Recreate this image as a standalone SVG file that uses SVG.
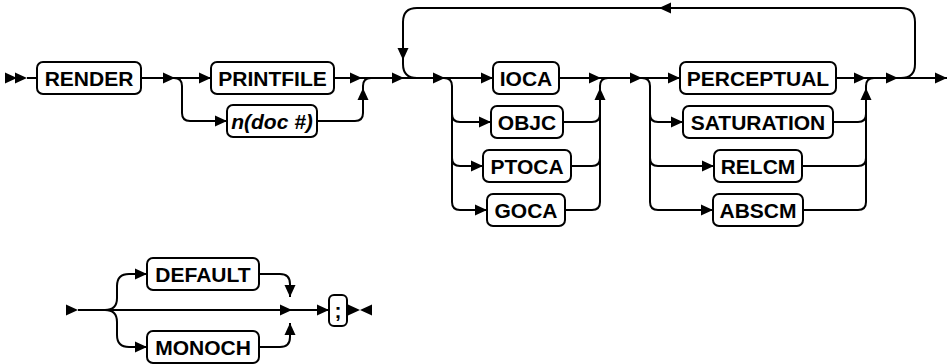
<svg xmlns="http://www.w3.org/2000/svg" xmlns:xlink="http://www.w3.org/1999/xlink" width="951" height="364" viewBox="0 0 951 364">
<style>
.box{fill:#fff;stroke:#000;stroke-width:2}
.ln{fill:none;stroke:#000;stroke-width:2}
text{font-family:"Liberation Sans",Arial,sans-serif;font-weight:bold;font-size:21px;text-anchor:middle;fill:#000}
.it{font-style:italic}
</style>
<defs>
<path id="ah" d="M-12,-5.5 L0,0 L-12,5.5 Z" fill="#000"/>
</defs>
<rect width="951" height="364" fill="#fff"/>
<g id="connectors">
<path class="ln" d="M27 78 H37"/>
<path class="ln" d="M141 78 H211"/>
<path class="ln" d="M174 78 Q182 78 182 86 V113 Q182 121 190 121 H227"/>
<path class="ln" d="M334 78 H493"/>
<path class="ln" d="M317 121 H355 Q363 121 363 113 V86 Q363 78 371 78"/>
<path class="ln" d="M901 78 Q915 78 915 64 V22 Q915 8 901 8 H417 Q403 8 403 22 V64 Q403 78 417 78"/>
<path class="ln" d="M444 78 Q452 78 452 86 V202 Q452 210 460 210 H487"/>
<path class="ln" d="M452 114 Q452 122 460 122 H491"/>
<path class="ln" d="M452 158 Q452 166 460 166 H483"/>
<path class="ln" d="M559 78 H680"/>
<path class="ln" d="M565 210 H592 Q600 210 600 202 V86 Q600 78 608 78"/>
<path class="ln" d="M563 122 H592 Q600 122 600 114"/>
<path class="ln" d="M571 166 H592 Q600 166 600 158"/>
<path class="ln" d="M642 78 Q650 78 650 86 V202 Q650 210 658 210 H713"/>
<path class="ln" d="M650 114 Q650 122 658 122 H683"/>
<path class="ln" d="M650 158 Q650 166 658 166 H714"/>
<path class="ln" d="M836 78 H947"/>
<path class="ln" d="M803 210 H858 Q866 210 866 202 V86 Q866 78 874 78"/>
<path class="ln" d="M833 122 H858 Q866 122 866 114"/>
<path class="ln" d="M802 166 H858 Q866 166 866 158"/>
<path class="ln" d="M78 310 H329"/>
<path class="ln" d="M105 310 Q117 310 117 298 V286 Q117 274 129 274 H147"/>
<path class="ln" d="M105 310 Q117 310 117 322 V335 Q117 347 129 347 H147"/>
<path class="ln" d="M259 274 H280 Q290 274 290 284 V297"/>
<path class="ln" d="M259 347 H280 Q290 347 290 337 V323"/>
<path class="ln" d="M347 310 H352"/>
<use xlink:href="#ah" transform="translate(17,78)"/>
<use xlink:href="#ah" transform="translate(27,78)"/>
<use xlink:href="#ah" transform="translate(175,78)"/>
<use xlink:href="#ah" transform="translate(211,78)"/>
<use xlink:href="#ah" transform="translate(227,121)"/>
<use xlink:href="#ah" transform="translate(362,78)"/>
<use xlink:href="#ah" transform="translate(363,88) rotate(-90)"/>
<use xlink:href="#ah" transform="translate(404,78)"/>
<use xlink:href="#ah" transform="translate(403,60) rotate(90)"/>
<use xlink:href="#ah" transform="translate(445,78)"/>
<use xlink:href="#ah" transform="translate(493,78)"/>
<use xlink:href="#ah" transform="translate(491,122)"/>
<use xlink:href="#ah" transform="translate(483,166)"/>
<use xlink:href="#ah" transform="translate(487,210)"/>
<use xlink:href="#ah" transform="translate(601,78)"/>
<use xlink:href="#ah" transform="translate(600,88) rotate(-90)"/>
<use xlink:href="#ah" transform="translate(642,78)"/>
<use xlink:href="#ah" transform="translate(680,78)"/>
<use xlink:href="#ah" transform="translate(683,122)"/>
<use xlink:href="#ah" transform="translate(714,166)"/>
<use xlink:href="#ah" transform="translate(713,210)"/>
<use xlink:href="#ah" transform="translate(866,78)"/>
<use xlink:href="#ah" transform="translate(866,88) rotate(-90)"/>
<use xlink:href="#ah" transform="translate(898,78)"/>
<use xlink:href="#ah" transform="translate(947,78)"/>
<use xlink:href="#ah" transform="translate(659,8) rotate(180)"/>
<use xlink:href="#ah" transform="translate(78,310)"/>
<use xlink:href="#ah" transform="translate(147,274)"/>
<use xlink:href="#ah" transform="translate(147,347)"/>
<use xlink:href="#ah" transform="translate(290,297) rotate(90)"/>
<use xlink:href="#ah" transform="translate(292,310)"/>
<use xlink:href="#ah" transform="translate(290,323) rotate(-90)"/>
<use xlink:href="#ah" transform="translate(329,310)"/>
<use xlink:href="#ah" transform="translate(360,310)"/>
<use xlink:href="#ah" transform="translate(360,310) rotate(180)"/>
</g>
<g id="n-render"><rect class="box" x="37" y="62" width="104" height="32" rx="6"/><text x="89" y="85.5">RENDER</text></g>
<g id="n-printfile"><rect class="box" x="211" y="62" width="123" height="32" rx="6"/><text x="272.5" y="85.5">PRINTFILE</text></g>
<g id="n-docnum"><rect class="box" x="227" y="105" width="90" height="32" rx="6"/><text class="it" x="272" y="128.5">n(doc #)</text></g>
<g id="n-ioca"><rect class="box" x="493" y="62" width="66" height="32" rx="6"/><text x="526" y="85.5">IOCA</text></g>
<g id="n-objc"><rect class="box" x="491" y="106" width="72" height="32" rx="6"/><text x="527" y="129.5">OBJC</text></g>
<g id="n-ptoca"><rect class="box" x="483" y="150" width="88" height="32" rx="6"/><text x="527" y="173.5">PTOCA</text></g>
<g id="n-goca"><rect class="box" x="487" y="194" width="78" height="32" rx="6"/><text x="526" y="217.5">GOCA</text></g>
<g id="n-perceptual"><rect class="box" x="680" y="62" width="156" height="32" rx="6"/><text x="758" y="85.5">PERCEPTUAL</text></g>
<g id="n-saturation"><rect class="box" x="683" y="106" width="150" height="32" rx="6"/><text x="758" y="129.5">SATURATION</text></g>
<g id="n-relcm"><rect class="box" x="714" y="150" width="88" height="32" rx="6"/><text x="758" y="173.5">RELCM</text></g>
<g id="n-abscm"><rect class="box" x="713" y="194" width="90" height="32" rx="6"/><text x="758" y="217.5">ABSCM</text></g>
<g id="n-default"><rect class="box" x="147" y="258" width="112" height="32" rx="6"/><text x="203" y="281.5">DEFAULT</text></g>
<g id="n-monoch"><rect class="box" x="147" y="331" width="112" height="32" rx="6"/><text x="203" y="354.5">MONOCH</text></g>
<g id="n-semi"><rect class="box" x="329" y="295" width="18" height="31" rx="5"/><text x="338" y="318">;</text></g>
</svg>
